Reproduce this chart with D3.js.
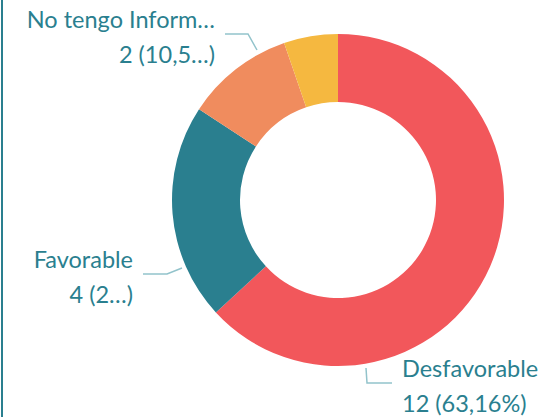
<!DOCTYPE html>
<html>
<head>
<meta charset="utf-8">
<script src="https://cdn.jsdelivr.net/npm/d3@7"></script>
<style>
  html, body { margin: 0; padding: 0; background: #ffffff; }
  svg { display: block; }
</style>
</head>
<body>
<svg id="chart" width="542" height="417"></svg>
<script>
const categories = ["Desfavorable", "Favorable", "No tengo Información", "Otro"];
const values = [12, 4, 2, 1];
const labelLine1 = ["Desfavorable", "Favorable", "No tengo Inform…", ""];
const labelLine2 = ["12 (63,16%)", "4 (2…)", "2 (10,5…)", ""];
const colors = ["#F2575B", "#2A7F8F", "#F08C5E", "#F5B840"];

const svg = d3.select("#chart");
const W = 542, H = 417;
const cx = 338, cy = 200, rOuter = 166, rInner = 98;

svg.append("rect").attr("x", 1).attr("y", 0).attr("width", 2).attr("height", H).attr("fill", "#2A7F8F");

const pie = d3.pie().sort(null).value(d => d)(values);
const arc = d3.arc().innerRadius(rInner).outerRadius(rOuter);

const g = svg.append("g").attr("transform", `translate(${cx},${cy})`);
g.selectAll("path.slice").data(pie).enter().append("path")
  .attr("class", "slice")
  .attr("d", arc)
  .attr("fill", (d, i) => colors[i]);

const textColor = "#2A7F8F";
const lineColor = "#92C3CB";
const font = "Lato, 'Open Sans', sans-serif";
const fs = 23.5;

const layout = [
  { p1: [366 - cx, 368 - cy], p2: [367 - cx, 383 - cy], p3: [392 - cx, 383 - cy], tx: 402 - cx, ty: 377 - cy, anchor: "start" },
  { p1: [182 - cx, 268 - cy], p2: [167 - cx, 274 - cy], p3: [143 - cx, 274 - cy], tx: 133 - cx, ty: 268 - cy, anchor: "end" },
  { p1: [257 - cx, 50 - cy], p2: [248 - cx, 34 - cy], p3: [225 - cx, 34 - cy], tx: 215 - cx, ty: 28 - cy, anchor: "end" },
  null
];

pie.forEach((d, i) => {
  const L = layout[i];
  if (!L) return;
  g.append("polyline")
    .attr("points", [L.p1, L.p2, L.p3].map(p => p.join(",")).join(" "))
    .attr("fill", "none")
    .attr("stroke", lineColor)
    .attr("stroke-width", 1.5);
  const t = g.append("text")
    .attr("x", L.tx).attr("y", L.ty)
    .attr("text-anchor", L.anchor)
    .attr("fill", textColor)
    .style("font-family", font)
    .style("font-size", fs + "px");
  t.append("tspan").attr("x", L.tx).attr("y", L.ty).text(labelLine1[i]);
  t.append("tspan").attr("x", L.tx).attr("y", L.ty + 35).text(labelLine2[i]);
});
</script>
</body>
</html>
